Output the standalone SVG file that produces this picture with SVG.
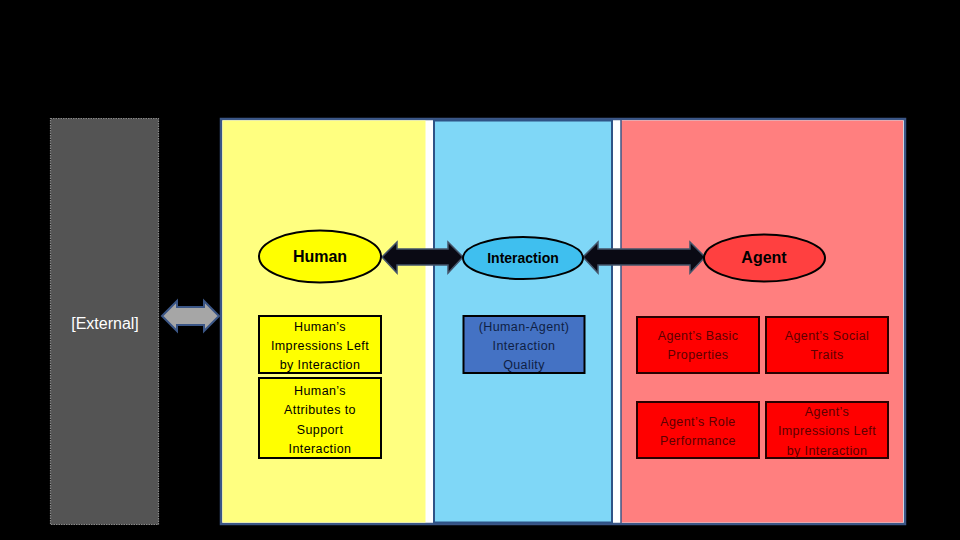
<svg xmlns="http://www.w3.org/2000/svg" width="960" height="540" viewBox="0 0 960 540">
<style>
.lbl{font-family:"Liberation Sans","DejaVu Sans",sans-serif;font-size:12.5px;text-anchor:middle;letter-spacing:0.4px}
.ell{font-family:"Liberation Sans","DejaVu Sans",sans-serif;font-weight:bold;text-anchor:middle}
.hbox{fill:#ffff00;stroke:#000;stroke-width:2}
.abox{fill:#ff0000;stroke:#2a0000;stroke-width:2}
.arrow{fill:#0a0a14;stroke:#44546a;stroke-width:1.5}
</style>
<rect x="0" y="0" width="960" height="540" fill="#000"/>
<g id="external">
<rect x="50.5" y="118.5" width="108" height="406" fill="#545454" stroke="#8a8a8a" stroke-width="1.2" stroke-dasharray="1.5 1"/>
<text x="105" y="329" font-family="Liberation Sans, DejaVu Sans, sans-serif" font-size="16" fill="#fff" text-anchor="middle">[External]</text>
</g>
<g id="panels">
<rect x="221" y="119" width="684" height="405" fill="#fff" stroke="#3b5686" stroke-width="2.5"/>
<rect x="222.5" y="120.5" width="203" height="402" fill="#ffff80"/>
<rect x="434" y="120.5" width="178" height="402" fill="#7fd7f7" stroke="#2f5386" stroke-width="2"/>
<rect x="621" y="120.5" width="282" height="402" fill="#ff7f7f"/>
<line x1="621" y1="120" x2="621" y2="523" stroke="#3b5686" stroke-width="1.5"/>
</g>
<g id="connectors">
<path class="arrow" d="M382,257 L397,242 L397,249 L448,249 L448,242 L463,257 L448,273 L448,265 L397,265 L397,273 Z"/>
<path class="arrow" d="M583,257 L598,242 L598,249 L690,249 L690,242 L705,257 L690,273 L690,265 L598,265 L598,273 Z"/>
<path d="M162,316 L177,301 L177,307 L204,307 L204,301 L219,316 L204,331 L204,325 L177,325 L177,331 Z" fill="#a6a6a6" stroke="#3b5686" stroke-width="2"/>
</g>
<g id="human">
<ellipse cx="320" cy="256.5" rx="61" ry="26" fill="#ffff00" stroke="#000" stroke-width="2"/>
<text class="ell" x="320" y="262" font-size="16" fill="#000">Human</text>
</g>
<g id="interaction">
<ellipse cx="523" cy="258" rx="60" ry="21" fill="#3fbfef" stroke="#000" stroke-width="2"/>
<text class="ell" x="523" y="263" font-size="14" fill="#000">Interaction</text>
</g>
<g id="agent">
<ellipse cx="764.5" cy="258" rx="60.5" ry="23.5" fill="#ff4040" stroke="#000" stroke-width="2"/>
<text class="ell" x="764" y="263" font-size="16" fill="#000">Agent</text>
</g>
<g id="human-impressions">
<rect class="hbox" x="259" y="316" width="122" height="57"/>
<text class="lbl" fill="#000"><tspan x="320" y="331">Human’s</tspan><tspan x="320" y="350">Impressions Left</tspan><tspan x="320" y="369">by Interaction</tspan></text>
</g>
<g id="human-attributes">
<rect class="hbox" x="259" y="378" width="122" height="80"/>
<text class="lbl" fill="#000"><tspan x="320" y="395">Human’s</tspan><tspan x="320" y="414">Attributes to</tspan><tspan x="320" y="434">Support</tspan><tspan x="320" y="453">Interaction</tspan></text>
</g>
<g id="interaction-quality">
<rect x="463.5" y="316" width="121" height="57" fill="#4472c4" stroke="#000" stroke-width="2"/>
<text class="lbl" fill="#0f1f45"><tspan x="524" y="331">(Human-Agent)</tspan><tspan x="524" y="350">Interaction</tspan><tspan x="524" y="369">Quality</tspan></text>
</g>
<g id="agent-basic">
<rect class="abox" x="637" y="317" width="122" height="56"/>
<text class="lbl" fill="#5c0000"><tspan x="698" y="340">Agent’s Basic</tspan><tspan x="698" y="359">Properties</tspan></text>
</g>
<g id="agent-social">
<rect class="abox" x="766" y="317" width="122" height="56"/>
<text class="lbl" fill="#5c0000"><tspan x="827" y="340">Agent’s Social</tspan><tspan x="827" y="359">Traits</tspan></text>
</g>
<g id="agent-role">
<rect class="abox" x="637" y="402" width="122" height="56"/>
<text class="lbl" fill="#5c0000"><tspan x="698" y="426">Agent’s Role</tspan><tspan x="698" y="445">Performance</tspan></text>
</g>
<g id="agent-impressions">
<rect class="abox" x="766" y="402" width="122" height="56"/>
<text class="lbl" fill="#5c0000"><tspan x="827" y="416">Agent’s</tspan><tspan x="827" y="435">Impressions Left</tspan><tspan x="827" y="455">by Interaction</tspan></text>
</g>
</svg>
